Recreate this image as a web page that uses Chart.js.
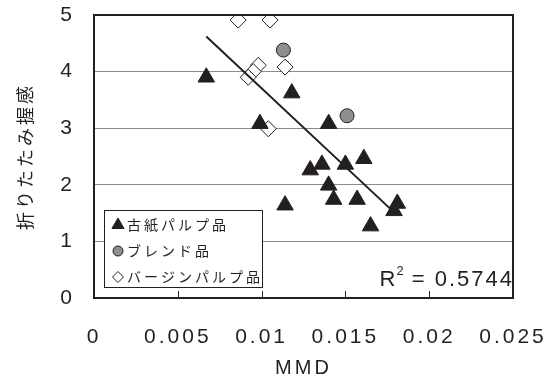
<!DOCTYPE html>
<html>
<head>
<meta charset="utf-8">
<script src="https://cdn.jsdelivr.net/npm/chart.js@4/dist/chart.umd.min.js"></script>
<style>
  html, body { margin: 0; padding: 0; background: #fff; }
  #wrap { width: 555px; height: 383px; }
</style>
</head>
<body>
<div id="wrap"><canvas id="chart" width="555" height="383"></canvas></div>
<script>
// --- Data ---

// 古紙パルプ品 (black triangles)
const recycledX = [0.0067, 0.0118, 0.0099, 0.0140, 0.0129, 0.0136, 0.0150, 0.0161, 0.0140, 0.0143, 0.0157, 0.0114, 0.0181, 0.0179, 0.0165];
const recycledY = [3.90, 3.62, 3.08, 3.08, 2.26, 2.36, 2.36, 2.46, 1.99, 1.74, 1.74, 1.64, 1.67, 1.54, 1.27];

// ブレンド品 (grey circles)
const blendX = [0.0113, 0.0151];
const blendY = [4.38, 3.22];

// バージンパルプ品 (open diamonds)
const virginX = [0.0086, 0.0105, 0.0098, 0.0095, 0.0092, 0.0114, 0.0104];
const virginY = [4.91, 4.91, 4.11, 4.00, 3.90, 4.08, 2.99];

// linear trend line end points
const trendX = [0.0067, 0.0177];
const trendY = [4.62, 1.57];

const seriesNames = ["古紙パルプ品", "ブレンド品", "バージンパルプ品"];
const xTickLabels = ["0", "0.005", "0.01", "0.015", "0.02", "0.025"];
const yTickLabels = ["0", "1", "2", "3", "4", "5"];
const rSquared = "0.5744";

const INK = "#231f20";
const JP_FONT = "'Noto Sans CJK JP', 'Noto Sans', sans-serif";
const NUM_FONT = "'Liberation Sans', Arial, sans-serif";

function toPoints(xs, ys) {
  return xs.map((x, i) => ({ x: x, y: ys[i] }));
}

// no automatic label padding, the plot box is placed by layout.padding
function noScalePadding(scale) {
  scale.paddingLeft = 0;
  scale.paddingRight = 0;
  scale.paddingTop = 0;
  scale.paddingBottom = 0;
}

// --- Plugins ---

// spaced-out lettering like the original figure
const letterSpacing = {
  id: "letterSpacing",
  beforeDraw(chart) {
    chart.ctx.letterSpacing = "3px";
  },
};

// dark frame around the plot area + inward tick marks on x
const frame = {
  id: "frame",
  afterDatasetsDraw(chart) {
    const { ctx, chartArea: a } = chart;
    const xs = chart.scales.x;
    ctx.save();
    ctx.strokeStyle = INK;
    ctx.lineWidth = 1;
    xs.ticks.forEach((t, i) => {
      if (i === 0 || i === xs.ticks.length - 1) return;
      const px = Math.round(xs.getPixelForValue(t.value)) + 0.5;
      ctx.beginPath();
      ctx.moveTo(px, a.bottom);
      ctx.lineTo(px, a.bottom - 7);
      ctx.stroke();
    });
    ctx.lineWidth = 2;
    ctx.strokeRect(a.left, a.top, a.right - a.left, a.bottom - a.top);
    ctx.restore();
  },
};

// legend box in the lower left and R² label in the lower right
const insideLegend = {
  id: "insideLegend",
  afterDraw(chart) {
    const { ctx, chartArea: a } = chart;
    const left = a.left + 10, top = a.bottom - 88, w = 158, h = 77;
    ctx.save();
    ctx.fillStyle = "#fff";
    ctx.fillRect(left, top, w, h);
    ctx.strokeStyle = INK;
    ctx.lineWidth = 1;
    ctx.strokeRect(left + 0.5, top + 0.5, w, h);

    ctx.letterSpacing = "3px";
    ctx.font = "14px " + JP_FONT;
    ctx.textBaseline = "middle";
    ctx.textAlign = "left";
    chart.data.datasets.slice(0, 3).forEach((ds, i) => {
      const cy = top + 15 + i * 26;
      ctx.fillStyle = ds.backgroundColor;
      ctx.strokeStyle = ds.borderColor;
      ctx.lineWidth = 1;
      Chart.helpers.drawPoint(ctx, {
        pointStyle: ds.pointStyle,
        radius: ds.legendRadius,
        borderWidth: 1,
        rotation: 0,
      }, left + 14, cy);
      ctx.fillStyle = INK;
      ctx.fillText(seriesNames[i], left + 23, cy);
    });

    // R² = ...
    const base = a.bottom - 12;
    ctx.fillStyle = INK;
    ctx.textBaseline = "alphabetic";
    ctx.textAlign = "right";
    ctx.letterSpacing = "2px";
    ctx.font = "22px " + NUM_FONT;
    const rest = " = " + rSquared;
    const restW = ctx.measureText(rest).width;
    ctx.fillText(rest, a.right + 1, base);
    ctx.font = "13px " + NUM_FONT;
    ctx.letterSpacing = "0px";
    const supW = ctx.measureText("2").width;
    ctx.fillText("2", a.right + 1 - restW, base - 11);
    ctx.font = "22px " + NUM_FONT;
    ctx.fillText("R", a.right + 1 - restW - supW - 1, base);
    ctx.restore();
  },
};

// --- Chart ---

const ctx = document.getElementById("chart").getContext("2d");

new Chart(ctx, {
  type: "scatter",
  data: {
    datasets: [
      {
        label: seriesNames[0],
        data: toPoints(recycledX, recycledY),
        pointStyle: "triangle",
        pointRadius: 9.5,
        legendRadius: 7,
        backgroundColor: INK,
        borderColor: INK,
        borderWidth: 1,
        order: 1,
      },
      {
        label: seriesNames[1],
        data: toPoints(blendX, blendY),
        pointStyle: "circle",
        pointRadius: 7,
        legendRadius: 5,
        backgroundColor: "#8e8e8e",
        borderColor: INK,
        borderWidth: 1,
        order: 2,
      },
      {
        label: seriesNames[2],
        data: toPoints(virginX, virginY),
        pointStyle: "rectRot",
        pointRadius: 8,
        legendRadius: 5.5,
        backgroundColor: "#ffffff",
        borderColor: INK,
        borderWidth: 1,
        order: 3,
      },
      {
        label: "trend",
        type: "line",
        data: toPoints(trendX, trendY),
        borderColor: INK,
        borderWidth: 2,
        pointRadius: 0,
        fill: false,
        order: 0,
      },
    ],
  },
  options: {
    responsive: false,
    animation: false,
    events: [],
    layout: { padding: { top: 15, right: 42, bottom: 0, left: 0 } },
    plugins: {
      legend: { display: false },
      tooltip: { enabled: false },
    },
    scales: {
      x: {
        type: "linear",
        min: 0,
        max: 0.025,
        afterBuildTicks(scale) {
          scale.ticks = xTickLabels.map((t) => ({ value: Number(t) }));
        },
        afterFit(scale) {
          scale.height = 85;
          noScalePadding(scale);
        },
        grid: { display: false },
        border: { display: false },
        ticks: {
          padding: 19,
          color: INK,
          maxRotation: 0,
          autoSkip: false,
          font: { family: NUM_FONT, size: 21 },
          callback: (v, i) => xTickLabels[i],
        },
        title: {
          display: true,
          text: "MMD",
          color: INK,
          font: { family: NUM_FONT, size: 20 },
          padding: { top: 0, bottom: 3 },
        },
      },
      y: {
        type: "linear",
        min: 0,
        max: 5,
        afterBuildTicks(scale) {
          scale.ticks = yTickLabels.map((t) => ({ value: Number(t) }));
        },
        afterFit(scale) {
          scale.width = 94;
          noScalePadding(scale);
        },
        grid: { color: "#8a8a8a", lineWidth: 1, drawTicks: false },
        border: { display: false },
        ticks: {
          padding: 19,
          color: INK,
          autoSkip: false,
          font: { family: NUM_FONT, size: 21 },
          callback: (v, i) => yTickLabels[i],
        },
        title: {
          display: true,
          text: "折りたたみ握感",
          color: INK,
          font: { family: JP_FONT, size: 18 },
          padding: { top: 14, bottom: 0 },
        },
      },
    },
  },
  plugins: [letterSpacing, frame, insideLegend],
});
</script>
</body>
</html>
